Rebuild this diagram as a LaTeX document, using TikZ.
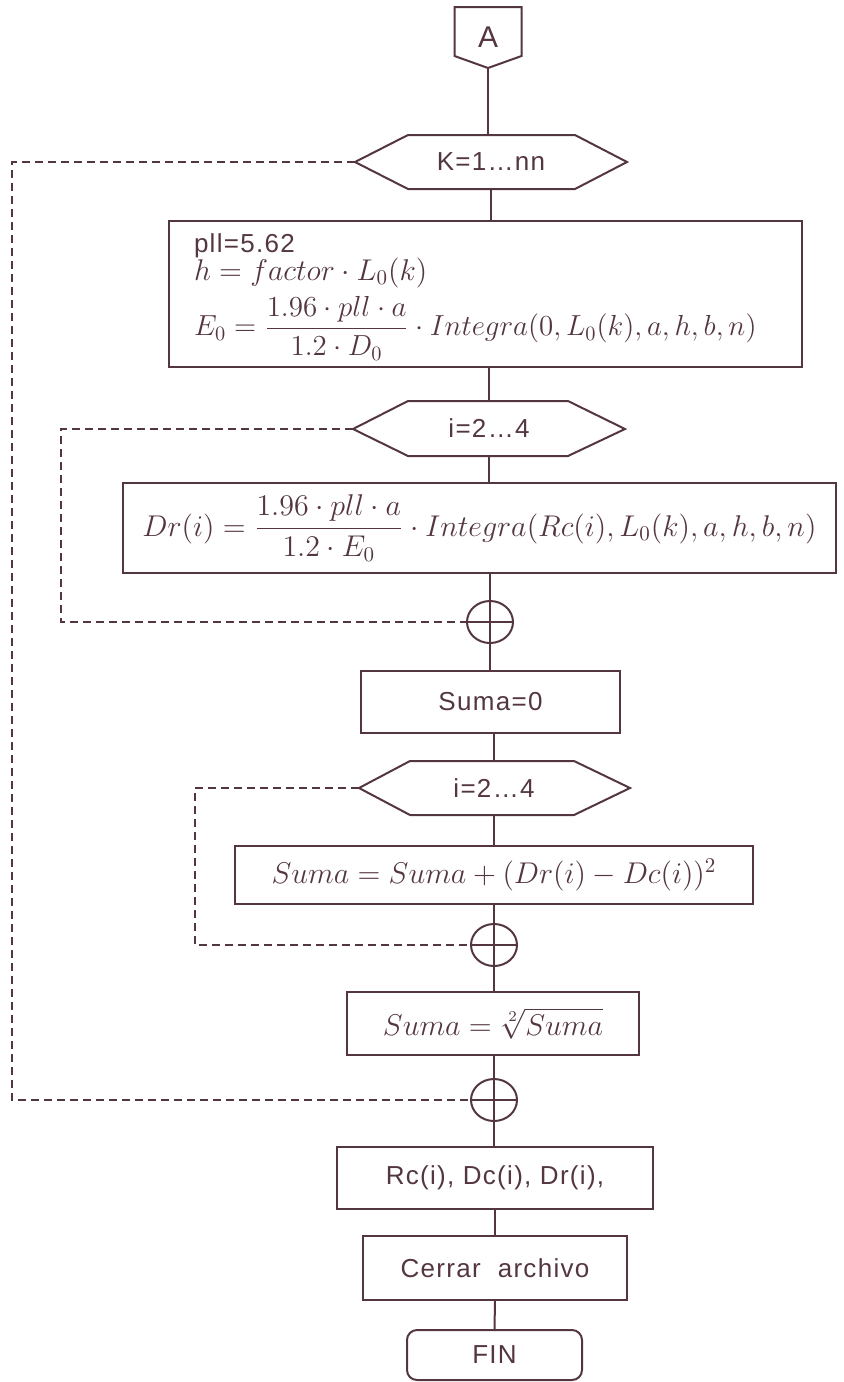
\RequirePackage{fix-cm}
\documentclass[tikz,border=0pt]{standalone}
\usepackage{amsmath}
\usepackage[no-math]{fontspec}
\setmainfont{Liberation Sans}[LetterSpace=5]
\usetikzlibrary{shapes.geometric,calc}

\definecolor{ink}{RGB}{84,54,66}

\begin{document}
\begin{tikzpicture}[x=0.5pt, y=-0.5pt, color=ink, line width=1pt,
		procbox/.style={draw, rectangle, inner sep=0pt, font=\fontsize{13}{15}\selectfont},
		mathbox/.style={procbox, font=\fontsize{15}{15}\selectfont},
		mathline/.style={inner sep=0pt, font=\fontsize{15}{15}\selectfont},
		loopbox/.style={inner sep=0pt, minimum width=136pt, minimum height=27pt, font=\fontsize{13}{15}\selectfont},
		joint/.style={draw, ellipse, inner sep=0pt, minimum width=23pt, minimum height=21pt,
			path picture={\draw (path picture bounding box.north) -- (path picture bounding box.south)
				(path picture bounding box.west) -- (path picture bounding box.east);}},
		back/.style={line width=0.9pt, dash pattern=on 4pt off 2.5pt},
		endbox/.style={procbox, rounded corners=5pt}]
			\useasboundingbox (0,0) rectangle (843,1382);

			% connector A
			\node (conA) [inner sep=0pt, minimum width=32.5pt, minimum height=29.5pt, font=\fontsize{15}{17}\selectfont] at (488,37.5) {A};
			\draw (conA.north west) -- (conA.north east) -- ($(conA.south east)+(0,-12)$) -- (conA.south) -- ($(conA.south west)+(0,-12)$) -- cycle;

			% outer loop over k
			\draw (355,162) coordinate (kl) -- (408,135) -- (575,135) -- (627,162) -- (575,189) -- (408,189) -- cycle;
			\node (hexk) [loopbox] at (491,162) {K=1\dots nn};

			\node (box1) [procbox, minimum width=316.5pt, minimum height=73pt] at (485.5,294) {};
			\node (pll) [anchor=base west, inner sep=0pt, font=\fontsize{13}{15}\selectfont] at (193,252) {pll=5.62};
			\node (hdef) [anchor=base west, mathline] at (193,280) {$h = factor\cdot L_0(k)$};
			\node (edef) [anchor=west, mathline, font=\fontsize{14.5}{15}\selectfont] at (193,328) {$E_0 = \dfrac{1.96\cdot pll\cdot a}{1.2\cdot D_0}\cdot Integra(0,L_0(k),a,h,b,n)$};

			% first loop over i
			\draw (353,429) coordinate (il) -- (408,401) -- (568,401) -- (625,429) -- (568,456) -- (408,456) -- cycle;
			\node (hexi) [loopbox] at (489,428.5) {i=2\dots 4};

			\node (box2) [mathbox, minimum width=356.5pt, minimum height=45pt] at (479.5,528)
				{$Dr(i) = \dfrac{1.96\cdot pll\cdot a}{1.2\cdot E_0}\cdot Integra(Rc(i),L_0(k),a,h,b,n)$};
			\node (sumi) [joint] at (490,622) {};

			\node (suma0) [procbox, minimum width=129.5pt, minimum height=31pt] at (490.5,702) {Suma=0};

			% second loop over i
			\draw (359,788) coordinate (jl) -- (410,761) -- (574,761) -- (630,788) -- (574,815) -- (410,815) -- cycle;
			\node (hexj) [loopbox] at (494,788) {i=2\dots 4};

			\node (acum) [mathbox, minimum width=259pt, minimum height=29pt] at (494,875) {$Suma = Suma + (Dr(i) - Dc(i))^2$};
			\node (sumj) [joint] at (494,945) {};

			\node (raiz) [mathbox, minimum width=146pt, minimum height=31.5pt] at (493,1023.5) {$Suma = \sqrt[2]{Suma}$};
			\node (sumk) [joint] at (494,1100) {};

			% output and end
			\node (salida) [procbox, minimum width=158pt, minimum height=31pt] at (495,1178) {Rc(i), Dc(i), Dr(i),};
			\node (cerrar) [procbox, minimum width=132pt, minimum height=32pt] at (495,1268) {Cerrar\ \ archivo};
			\node (fin) [endbox, minimum width=87.5pt, minimum height=25pt] at (494.5,1355) {FIN};

			% flow lines
			\draw (conA.south) -- (conA.south |- hexk.north);
			\draw (hexk.south) -- (hexk.south |- box1.north);
			\draw (hexi.north |- box1.south) -- (hexi.north);
			\draw (hexi.south) -- (hexi.south |- box2.north);
			\draw (sumi.north |- box2.south) -- (sumi.north);
			\draw (sumi.south) -- (sumi.south |- suma0.north);
			\draw (hexj.north |- suma0.south) -- (hexj.north);
			\draw (hexj.south) -- (hexj.south |- acum.north);
			\draw (acum.south) -- (sumj.north);
			\draw (sumj.south) -- (sumj.south |- raiz.north);
			\draw (sumk.north |- raiz.south) -- (sumk.north);
			\draw (sumk.south) -- (sumk.south |- salida.north);
			\draw (salida.south) -- (cerrar.north);
			\draw (cerrar.south) -- (fin.north);

			% loop returns
			\draw [back] (kl) -- ++(-343,0) |- (sumk.west);
			\draw [back] (il) -- ++(-292,0) |- (sumi.west);
			\draw [back] (jl) -- ++(-164,0) |- (sumj.west);
		\end{tikzpicture}
\end{document}
